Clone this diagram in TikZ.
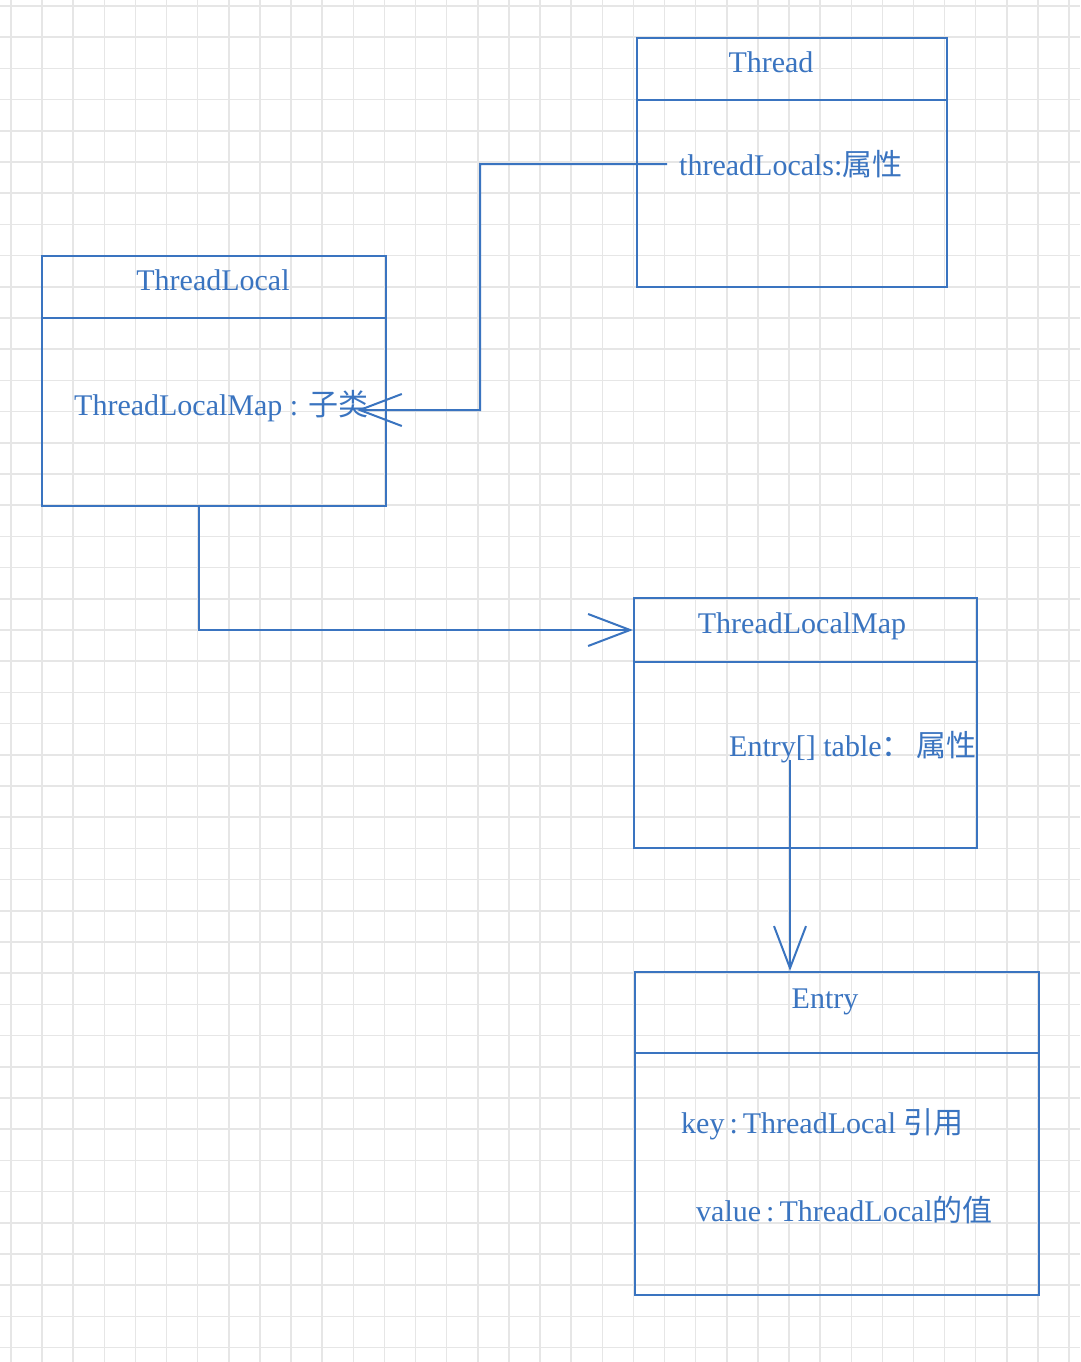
\documentclass[tikz,border=0pt]{standalone}
\usepackage{fontspec}
\setmainfont{Liberation Serif}
\newfontfamily\cjk{Noto Sans CJK SC}
\usetikzlibrary{arrows.meta,calc}
\definecolor{ink}{HTML}{3A74C0}
\definecolor{gridc}{HTML}{E6E6E6}
\begin{document}
\begin{tikzpicture}[x=1pt,y=-1pt,
  box/.style={draw=ink, line width=2.2pt, inner sep=0pt},
  sep/.style={draw=ink, line width=2.2pt},
  lbl/.style={text=ink, font=\fontsize{30}{36}\selectfont, inner sep=0pt},
  conn/.style={draw=ink, line width=2pt, -{Straight Barb[length=42pt,width=32pt,line width=2pt]}}]
\useasboundingbox (0,0) rectangle (1080,1362);
\fill[white] (0,0) rectangle (1080,1362);
% grid
\foreach \i in {0,...,34} \draw[gridc, line width=1.5pt] ({11+31.12*\i},0) -- ({11+31.12*\i},1362);
\foreach \j in {0,...,43} \draw[gridc, line width=1.5pt] (0,{6+31.2*\j}) -- (1080,{6+31.2*\j});

% boxes
\node[box, minimum width=310pt, minimum height=249pt] (thread) at (792,162.5) {};
\node[box, minimum width=344pt, minimum height=250pt] (tlocal) at (214,381) {};
\node[box, minimum width=343pt, minimum height=250pt] (tlmap) at (805.5,723) {};
\node[box, minimum width=404pt, minimum height=323pt] (entry) at (837,1133.5) {};

% header separators
\draw[sep] (thread.west |- 0,100) -- (thread.east |- 0,100);
\draw[sep] (tlocal.west |- 0,318) -- (tlocal.east |- 0,318);
\draw[sep] (tlmap.west |- 0,662) -- (tlmap.east |- 0,662);
\draw[sep] (entry.west |- 0,1053) -- (entry.east |- 0,1053);

% titles
\node[lbl, anchor=base] (threadT) at (771,72.5) {Thread};
\node[lbl, anchor=base] (tlocalT) at (213,290.5) {ThreadLocal};
\node[lbl, anchor=base] (tlmapT) at (802,633) {ThreadLocalMap};
\node[lbl, anchor=base] (entryT) at (825,1008) {Entry};

% members
\node[lbl, anchor=base west] (locals) at (679,175.5) {threadLocals:{\cjk 属性}};
\node[lbl, anchor=base west] (sub) at (74,415) {ThreadLocalMap : {\cjk 子类}};
\node[lbl, anchor=base west] (table) at (729,756.5) {Entry[] table{\cjk ：}\,{\cjk 属性}};
\node[lbl, anchor=base west] (key) at (681,1133) {key\,:\,ThreadLocal {\cjk 引用}};
\node[lbl, anchor=base west] (value) at (696,1221.5) {value\,:\,ThreadLocal{\cjk 的值}};

% connector anchors
\coordinate (c1) at ($(locals.west)+(-12,0)$);
\coordinate (c1end) at (357,410);
\coordinate (c2) at (199,506);
\coordinate (c3) at (790,760);

\draw[conn] (c1) -- (480,164) -- (480,410) -- (c1end);
\draw[conn] (c2) -- (199,630) -- (tlmap.west |- 0,630);
\draw[conn] (c3) -- (entry.north -| c3);
\end{tikzpicture}
\end{document}
